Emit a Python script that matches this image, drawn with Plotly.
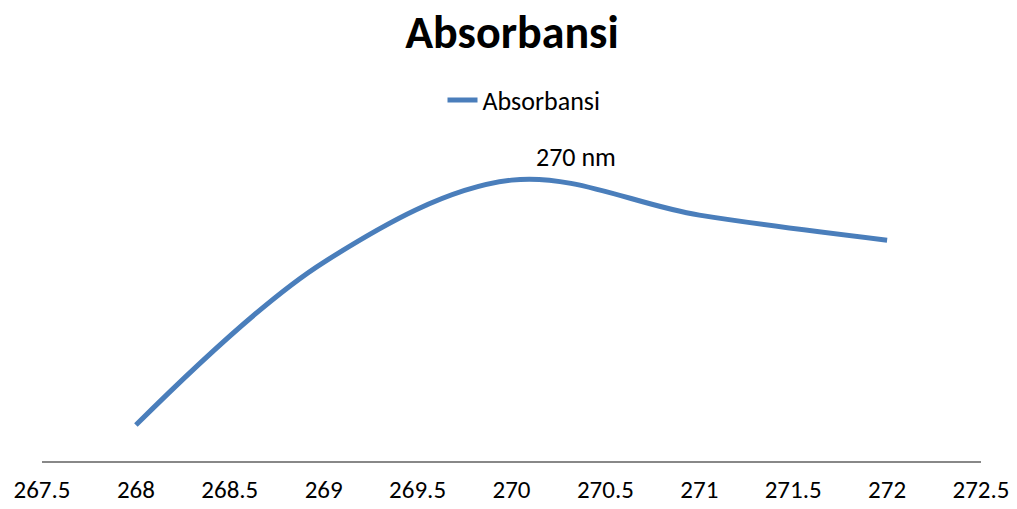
import plotly.graph_objects as go

# Data
wavelength = [268, 269, 270, 271, 272]
absorbance = [0.112, 0.619, 0.875, 0.766, 0.688]
x_ticks = [267.5, 268, 268.5, 269, 269.5, 270, 270.5, 271, 271.5, 272, 272.5]
x_tick_labels = ["267.5", "268", "268.5", "269", "269.5", "270", "270.5", "271", "271.5", "272", "272.5"]
peak_label = "270 nm"
series_name = "Absorbansi"
title_text = "Absorbansi"

FONT = "Carlito, Lato, 'Open Sans', sans-serif"

fig = go.Figure()
fig.add_trace(go.Scatter(
    x=wavelength, y=absorbance, mode="lines", name=series_name,
    line=dict(color="#4A7EBB", width=5, shape="spline", smoothing=1.0),
))

fig.add_annotation(x=270.345, y=0.947, xref="x", yref="y", text=peak_label,
                   showarrow=False, xanchor="center", yanchor="middle",
                   font=dict(family=FONT, size=26, color="#000000"))

# page has an 8px body margin; size/margins compensate for it
fig.update_layout(
    width=1009, height=501,
    margin=dict(l=34, r=36, t=132, b=48),
    paper_bgcolor="white", plot_bgcolor="white",
    font=dict(family=FONT, color="#000000"),
    title=dict(text="<b>" + title_text + "</b>", x=(512 - 8) / 1009, xanchor="center",
               y=1 - 24 / 501, yanchor="middle",
               font=dict(family=FONT, size=46, color="#000000"), automargin=False),
    showlegend=True,
    legend=dict(orientation="h", x=(524 - 8 - 34) / 939, xanchor="center",
                y=(453 - 92) / 321, yanchor="middle",
                font=dict(family=FONT, size=26, color="#000000"),
                bgcolor="rgba(0,0,0,0)", itemwidth=30),
    xaxis=dict(range=[267.5, 272.5], tickvals=x_ticks, ticktext=x_tick_labels,
               showgrid=False, zeroline=False, showline=True, linecolor="#888888",
               linewidth=1.5, ticks="outside", ticklen=5, tickcolor="rgba(0,0,0,0)",
               tickfont=dict(family=FONT, size=25, color="#000000"),
               automargin=False, fixedrange=True),
    yaxis=dict(range=[0, 1], visible=False, showgrid=False, zeroline=False,
               automargin=False, fixedrange=True),
)

fig.write_html("out.html")
